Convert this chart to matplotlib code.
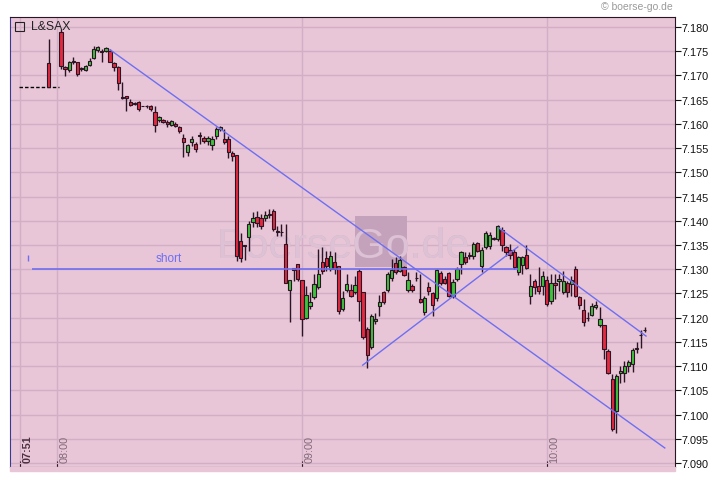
import matplotlib.pyplot as plt
import matplotlib.transforms as mtransforms
from matplotlib.patches import Rectangle
import numpy as np

plt.rcParams['font.family'] = ['Liberation Sans', 'DejaVu Sans']

# 1-minute candles, x = minutes after 08:00
minutes = [-2] + list(range(1, 145))

opens = [7.1726, 7.1790, 7.1717, 7.1711, 7.1728, 7.1728, 7.1713, 7.1711, 7.1722, 7.1736,
         7.1753, 7.1750, 7.1750, 7.1750, 7.1726, 7.1717, 7.1656, 7.1658, 7.1645, 7.1641,
         7.1645, 7.1637, 7.1637, 7.1637, 7.1625, 7.1608, 7.1608, 7.1604, 7.1598, 7.1600,
         7.1594, 7.1571, 7.1542, 7.1563, 7.1558, 7.1575, 7.1571, 7.1565, 7.1556, 7.1575,
         7.1589, 7.1569, 7.1569, 7.1540, 7.1536, 7.1358, 7.1350, 7.1367, 7.1398, 7.1408,
         7.1406, 7.1406, 7.1412, 7.1420, 7.1379, 7.1377, 7.1352, 7.1257, 7.1303, 7.1311,
         7.1278, 7.1199, 7.1224, 7.1243, 7.1263, 7.1315, 7.1323, 7.1300, 7.1315, 7.1307,
         7.1218, 7.1257, 7.1257, 7.1253, 7.1296, 7.1253, 7.1177, 7.1139, 7.1193, 7.1224,
         7.1253, 7.1257, 7.1282, 7.1313, 7.1296, 7.1305, 7.1257, 7.1265, 7.1282, 7.1239,
         7.1212, 7.1263, 7.1251, 7.1241, 7.1292, 7.1280, 7.1292, 7.1245, 7.1280, 7.1311,
         7.1325, 7.1327, 7.1327, 7.1354, 7.1307, 7.1346, 7.1348, 7.1362, 7.1362, 7.1381,
         7.1346, 7.1340, 7.1336, 7.1294, 7.1309, 7.1329, 7.1245, 7.1276, 7.1265, 7.1265,
         7.1278, 7.1234, 7.1272, 7.1276, 7.1253, 7.1272, 7.1270, 7.1300, 7.1243, 7.1216,
         7.1199, 7.1206, 7.1222, 7.1185, 7.1185, 7.1131, 7.1073, 7.1007, 7.1086, 7.1086,
         7.1100, 7.1104, 7.1135, 7.1164, 7.1175]

highs = [7.1775, 7.1796, 7.1719, 7.1730, 7.1738, 7.1728, 7.1717, 7.1721, 7.1736, 7.1761,
         7.1761, 7.1755, 7.1759, 7.1755, 7.1728, 7.1719, 7.1686, 7.1658, 7.1651, 7.1645,
         7.1647, 7.1637, 7.1639, 7.1639, 7.1637, 7.1616, 7.1610, 7.1608, 7.1608, 7.1604,
         7.1596, 7.1579, 7.1558, 7.1575, 7.1563, 7.1583, 7.1575, 7.1575, 7.1575, 7.1594,
         7.1596, 7.1589, 7.1575, 7.1544, 7.1536, 7.1375, 7.1350, 7.1400, 7.1418, 7.1420,
         7.1414, 7.1420, 7.1424, 7.1424, 7.1389, 7.1393, 7.1393, 7.1278, 7.1303, 7.1311,
         7.1278, 7.1265, 7.1253, 7.1290, 7.1342, 7.1346, 7.1338, 7.1338, 7.1336, 7.1307,
         7.1255, 7.1290, 7.1270, 7.1286, 7.1300, 7.1253, 7.1181, 7.1208, 7.1210, 7.1247,
         7.1255, 7.1294, 7.1321, 7.1325, 7.1327, 7.1307, 7.1294, 7.1270, 7.1294, 7.1290,
         7.1245, 7.1274, 7.1253, 7.1300, 7.1296, 7.1286, 7.1294, 7.1280, 7.1305, 7.1338,
         7.1336, 7.1336, 7.1356, 7.1356, 7.1346, 7.1379, 7.1377, 7.1367, 7.1391, 7.1387,
         7.1348, 7.1352, 7.1342, 7.1327, 7.1327, 7.1350, 7.1290, 7.1280, 7.1305, 7.1296,
         7.1286, 7.1290, 7.1290, 7.1290, 7.1296, 7.1276, 7.1286, 7.1307, 7.1245, 7.1239,
         7.1212, 7.1230, 7.1234, 7.1222, 7.1185, 7.1135, 7.1084, 7.1084, 7.1100, 7.1111,
         7.1113, 7.1137, 7.1150, 7.1175, 7.1181]

lows = [7.1676, 7.1713, 7.1699, 7.1707, 7.1724, 7.1699, 7.1709, 7.1709, 7.1719, 7.1734,
        7.1748, 7.1728, 7.1748, 7.1728, 7.1709, 7.1670, 7.1651, 7.1627, 7.1637, 7.1639,
        7.1627, 7.1637, 7.1633, 7.1627, 7.1583, 7.1604, 7.1602, 7.1594, 7.1596, 7.1594,
        7.1581, 7.1532, 7.1534, 7.1554, 7.1542, 7.1558, 7.1561, 7.1556, 7.1546, 7.1569,
        7.1585, 7.1558, 7.1530, 7.1524, 7.1317, 7.1315, 7.1319, 7.1338, 7.1387, 7.1387,
        7.1383, 7.1400, 7.1406, 7.1379, 7.1369, 7.1369, 7.1272, 7.1191, 7.1276, 7.1276,
        7.1162, 7.1197, 7.1218, 7.1239, 7.1259, 7.1290, 7.1296, 7.1296, 7.1290, 7.1208,
        7.1214, 7.1253, 7.1243, 7.1249, 7.1193, 7.1156, 7.1096, 7.1135, 7.1187, 7.1203,
        7.1228, 7.1253, 7.1276, 7.1290, 7.1294, 7.1286, 7.1253, 7.1253, 7.1276, 7.1230,
        7.1206, 7.1247, 7.1203, 7.1234, 7.1267, 7.1270, 7.1243, 7.1241, 7.1276, 7.1290,
        7.1311, 7.1321, 7.1321, 7.1336, 7.1294, 7.1342, 7.1342, 7.1360, 7.1358, 7.1338,
        7.1327, 7.1321, 7.1300, 7.1288, 7.1290, 7.1300, 7.1228, 7.1249, 7.1249, 7.1247,
        7.1224, 7.1228, 7.1239, 7.1255, 7.1249, 7.1243, 7.1245, 7.1243, 7.1218, 7.1183,
        7.1193, 7.1203, 7.1218, 7.1181, 7.1115, 7.1084, 7.0966, 7.0962, 7.1065, 7.1067,
        7.1088, 7.1088, 7.1127, 7.1137, 7.1170]

closes = [7.1676, 7.1719, 7.1713, 7.1728, 7.1730, 7.1703, 7.1715, 7.1719, 7.1730, 7.1755,
          7.1759, 7.1748, 7.1757, 7.1728, 7.1717, 7.1684, 7.1653, 7.1653, 7.1639, 7.1643,
          7.1631, 7.1637, 7.1637, 7.1631, 7.1598, 7.1614, 7.1604, 7.1600, 7.1606, 7.1596,
          7.1585, 7.1563, 7.1556, 7.1569, 7.1548, 7.1577, 7.1565, 7.1571, 7.1569, 7.1589,
          7.1594, 7.1563, 7.1542, 7.1534, 7.1327, 7.1323, 7.1348, 7.1393, 7.1406, 7.1395,
          7.1389, 7.1412, 7.1414, 7.1383, 7.1377, 7.1377, 7.1272, 7.1278, 7.1298, 7.1280,
          7.1197, 7.1247, 7.1232, 7.1270, 7.1290, 7.1296, 7.1307, 7.1327, 7.1300, 7.1214,
          7.1241, 7.1270, 7.1245, 7.1267, 7.1234, 7.1160, 7.1123, 7.1203, 7.1197, 7.1232,
          7.1232, 7.1290, 7.1298, 7.1294, 7.1319, 7.1288, 7.1278, 7.1257, 7.1282, 7.1232,
          7.1241, 7.1255, 7.1226, 7.1298, 7.1272, 7.1272, 7.1245, 7.1274, 7.1300, 7.1336,
          7.1315, 7.1329, 7.1352, 7.1338, 7.1340, 7.1375, 7.1371, 7.1364, 7.1389, 7.1350,
          7.1336, 7.1329, 7.1305, 7.1325, 7.1325, 7.1303, 7.1265, 7.1263, 7.1255, 7.1286,
          7.1228, 7.1272, 7.1267, 7.1280, 7.1276, 7.1253, 7.1278, 7.1245, 7.1226, 7.1191,
          7.1199, 7.1224, 7.1226, 7.1197, 7.1135, 7.1086, 7.0970, 7.1080, 7.1090, 7.1100,
          7.1109, 7.1133, 7.1137, 7.1164, 7.1175]

prev_close = 7.1676
prev_close_span = (-9.3, 0.5)
short_level = 7.1300
short_span = (-6.1, 112.9)

# drawn trend lines, endpoints as (minute, price)
trend_lines = [((13.0, 7.1753), (148.9, 7.0931)),
               ((74.9, 7.1102), (112.9, 7.1346)),
               ((108.3, 7.1385), (144.3, 7.1162))]

time_ticks = [-9, 0, 60, 120]
time_labels = ['07:51', '08:00', '09:00', '10:00']
price_ticks = np.arange(7.090, 7.1801, 0.005)

bg = '#e8c6d8'
gridc = '#d3aec4'
dark = '#2b1424'
blue = '#6e6ef2'

fig = plt.figure(figsize=(7.2, 4.81), dpi=100, facecolor='white')
ax = fig.add_axes([10 / 720, 13 / 481, 665 / 720, 450 / 481])
ax.set_facecolor(bg)
fig.patches.append(Rectangle((10 / 720, 9 / 481), 665 / 720, 4 / 481,
                             transform=fig.transFigure, color=bg, zorder=0))

ax.set_xlim(-11.5, 151.4)
ax.set_ylim(7.08917, 7.18206)

# watermark: text, a box over "Go", and the text again clipped to the box
ax.text(0.311, 0.467, 'BoerseGo.de', transform=ax.transAxes, fontsize=31,
        color='#d5adc3', ha='left', va='baseline', zorder=0.6)
box = Rectangle((0.519, 0.444), 0.078, 0.114, transform=ax.transAxes,
                color='#c4a2bc', zorder=0.7, lw=0)
ax.add_patch(box)
inner = ax.text(0.311, 0.467, 'BoerseGo.de', transform=ax.transAxes,
                fontsize=31, color='#dcc2d4', ha='left', va='baseline',
                zorder=0.8)
inner.set_clip_path(box)

m = np.array(minutes)
o = np.array(opens)
h = np.array(highs)
l = np.array(lows)
c = np.array(closes)
cols = np.where(c >= o, '#3cc43c', '#e42a40')

ax.vlines(m, l, h, color=dark, lw=1, zorder=3)
ax.bar(m, np.abs(c - o), bottom=np.minimum(o, c), width=0.8, color=cols,
       edgecolor=dark, linewidth=0.8, zorder=4)

ax.hlines(prev_close, *prev_close_span, color='black', lw=1,
          linestyles=(0, (2.5, 1.5)), zorder=3)
ax.hlines(short_level, *short_span, color=blue, lw=1.2, zorder=5)
ax.plot([-7.1], [7.1323], marker='|', color=blue, ms=4, zorder=5)
ax.text(27.4, 7.1324, 'short', color=blue, fontsize=8.5, ha='center',
        va='center', zorder=5)
for (x0, y0), (x1, y1) in trend_lines:
    ax.plot([x0, x1], [y0, y1], color=blue, lw=1, zorder=5)

ax.set_xticks(time_ticks)
ax.set_yticks(price_ticks)
ax.set_yticklabels(['%.3f' % p for p in price_ticks])
ax.grid(True, color=gridc, lw=1)
ax.set_axisbelow(True)
ax.tick_params(axis='x', direction='in', length=4, labelbottom=False,
               color=dark)
ax.yaxis.tick_right()
ax.tick_params(axis='y', direction='out', length=4, labelsize=7.8,
               colors='#111111', pad=1)

trans = mtransforms.blended_transform_factory(ax.transData, ax.transAxes)
for t, lab in zip(time_ticks, time_labels):
    first = lab == '07:51'
    ax.text(t + 0.6, 0.011, lab, rotation=90, transform=trans, ha='left',
            va='bottom', fontsize=7.8, color='#4a3040' if first else '#806878',
            fontweight='bold' if first else 'normal', zorder=2)

for side in ['top', 'bottom', 'right']:
    ax.spines[side].set_color(dark)
ax.spines['left'].set_color('#3a3a90')

# header
fig.patches.append(Rectangle((15 / 720, 1 - 32 / 481), 9 / 720, 9 / 481,
                             transform=fig.transFigure, fill=False,
                             ec='#222222', lw=0.8))
fig.text(31 / 720, 1 - 27.5 / 481, 'L&SAX', fontsize=8.8, color='#222222',
         va='center', ha='left')
fig.text(673 / 720, 1 - 7 / 481, '\u00a9 boerse-go.de', fontsize=7.5,
         color='#9a9a9a', va='center', ha='right')

fig.savefig('out.png', dpi=100)
